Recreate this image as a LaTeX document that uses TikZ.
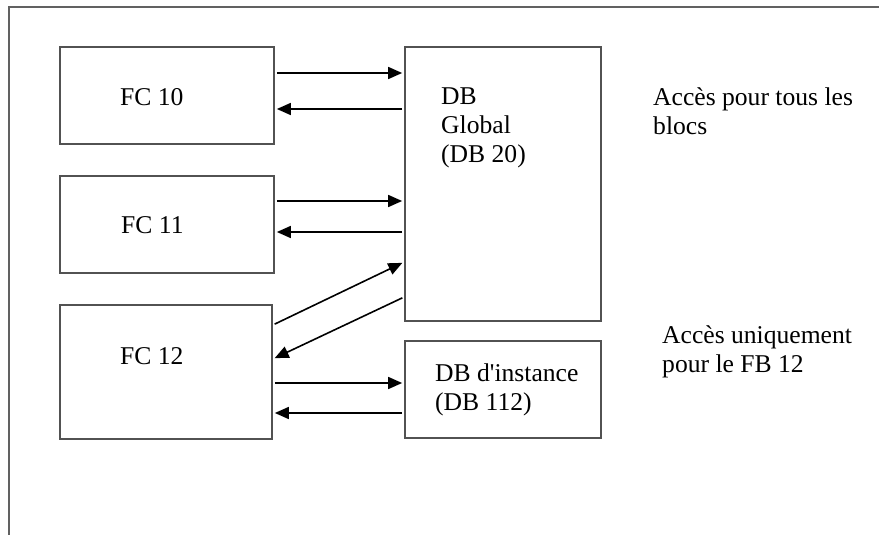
\documentclass[tikz,border=0pt]{standalone}
\usepackage{fontspec}
\setmainfont{Liberation Serif}
\usetikzlibrary{arrows.meta}
\begin{document}
\begin{tikzpicture}[x=1pt,y=-1pt,
  blk/.style={draw=black!68, line width=1.7pt, inner sep=0pt},
  txt/.style={anchor=base west, inner sep=0pt, align=left, font=\fontsize{25.6}{29}\selectfont},
  arr/.style={draw, line width=1.6pt, -{Triangle[length=14pt,width=12pt]}, shorten <=2pt, shorten >=2pt}]
\useasboundingbox (0,0) rectangle (879,535);
% open frame
\draw[black!62, line width=1.7pt] (879,7) -- (9,7) -- (9,535);
% blocks
\node[blk, minimum width=214pt, minimum height=97pt] (fc10) at (167,95.5) {};
\node[blk, minimum width=214pt, minimum height=97pt] (fc11) at (167,224.5) {};
\node[blk, minimum width=212pt, minimum height=134pt] (fc12) at (166,372) {};
\node[blk, minimum width=196pt, minimum height=274pt] (dbglob) at (503,184) {};
\node[blk, minimum width=196pt, minimum height=97pt] (dbinst) at (503,389.5) {};
% texts (base = last line)
\node[txt] (t10) at (120,106) {FC 10};
\node[txt] (t11) at (121,233) {FC 11};
\node[txt] (t12) at (120,364) {FC 12};
\node[txt] (tglob) at (441,162) {DB\\Global\\(DB 20)};
\node[txt] (tinst) at (435,410) {DB d\textquotesingle instance\\(DB 112)};
\node[txt] (ntous) at (653,135) {Accès pour tous les\\blocs};
\node[txt] (nuniq) at (662,372) {Accès uniquement\\pour le FB 12};
% accesses
\path[arr] (fc10.east |- 0,73) -- (dbglob.west |- 0,73);
\path[arr] (dbglob.west |- 0,109) -- (fc10.east |- 0,109);
\path[arr] (fc11.east |- 0,201) -- (dbglob.west |- 0,201);
\path[arr] (dbglob.west |- 0,232) -- (fc11.east |- 0,232);
\path[arr] (fc12.east |- 0,325) -- (dbglob.west |- 0,262);
\path[arr] (dbglob.west |- 0,297) -- (fc12.east |- 0,359);
\path[arr] (fc12.east |- 0,383) -- (dbinst.west |- 0,383);
\path[arr] (dbinst.west |- 0,413) -- (fc12.east |- 0,413);
\end{tikzpicture}
\end{document}
